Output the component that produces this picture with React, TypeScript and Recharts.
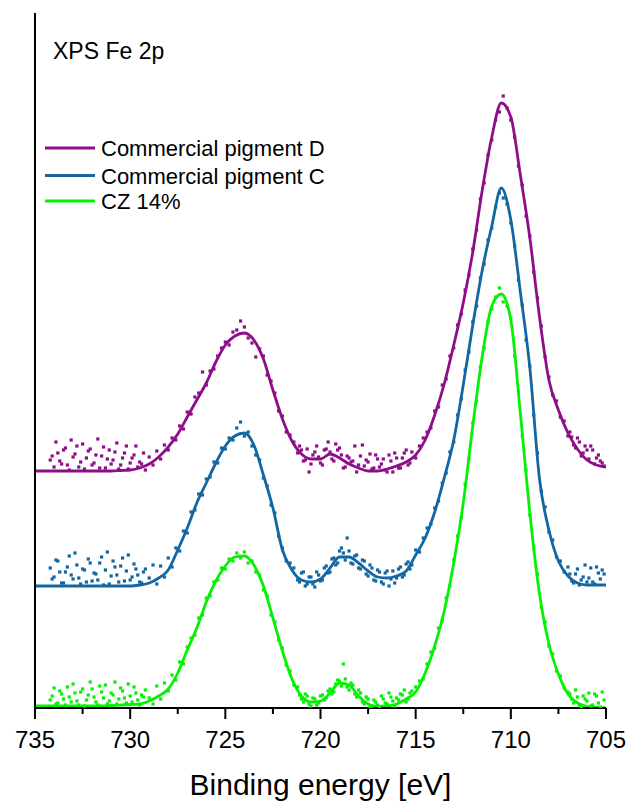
import React from 'react';
import { ComposedChart, Line, Scatter, XAxis, YAxis } from 'recharts';

// Fitted envelopes, binding energy 735 -> 705 eV in 0.5 eV steps (intensity, offset a.u.)
const fitEnergy = [
  735, 734.5, 734, 733.5, 733, 732.5, 732, 731.5, 731, 730.5,
  730, 729.5, 729, 728.5, 728, 727.5, 727, 726.5, 726, 725.5,
  725, 724.5, 724, 723.5, 723, 722.5, 722, 721.5, 721, 720.5,
  720, 719.5, 719, 718.5, 718, 717.5, 717, 716.5, 716, 715.5,
  715, 714.5, 714, 713.5, 713, 712.5, 712, 711.5, 711, 710.5,
  710, 709.5, 709, 708.5, 708, 707.5, 707, 706.5, 706, 705.5, 705,
];
const fitPigmentD = [
  237, 237, 237, 237, 237, 237, 237, 237, 237, 237.5,
  238, 240, 244, 251, 261, 274, 291, 308, 325, 346,
  363, 372, 375, 368, 349, 318, 289, 267, 254, 249,
  249, 254, 250, 244, 240, 237, 237, 239, 242, 246,
  253, 268, 293, 324, 363, 405, 456, 518, 571, 605,
  591, 533, 470, 392, 328, 298, 275, 259, 248, 243, 241,
];
const fitPigmentC = [
  122, 122, 122, 122, 122, 122, 122, 122, 122, 122,
  122, 123, 125, 130, 138, 158, 180, 205, 225, 245,
  262, 272, 275, 263, 233, 200, 158, 138, 128, 126,
  129, 140, 151, 151, 145, 137, 131, 130, 132, 137,
  153, 170, 196, 230, 268, 323, 383, 438, 482, 520,
  488, 416, 340, 230, 178, 147, 132, 125, 123, 123, 123,
];
const fitCZ14 = [
  2, 2, 2, 2, 2, 2, 2, 2, 2.5, 3,
  3.5, 4, 7, 12, 19, 35, 58, 80, 106, 127,
  142, 151, 152, 143, 122, 90, 57, 29, 12, 6,
  7, 15, 25, 23, 12, 4, 1.5, 2, 4, 9,
  16, 35, 62, 97, 145, 205, 282, 352, 402, 414,
  388, 295, 195, 115, 64, 34, 14, 5, 1.5, 0.5, 0,
];

// Measured points, 734.2 -> 705.2 eV in 0.2 eV steps
const pointEnergy = [
  734.2,
  734.0, 733.8, 733.6, 733.4, 733.2, 733.0, 732.8, 732.6, 732.4, 732.2,
  732.0, 731.8, 731.6, 731.4, 731.2, 731.0, 730.8, 730.6, 730.4, 730.2,
  730.0, 729.8, 729.6, 729.4, 729.2, 729.0, 728.8, 728.6, 728.4, 728.2,
  728.0, 727.8, 727.6, 727.4, 727.2, 727.0, 726.8, 726.6, 726.4, 726.2,
  726.0, 725.8, 725.6, 725.4, 725.2, 725.0, 724.8, 724.6, 724.4, 724.2,
  724.0, 723.8, 723.6, 723.4, 723.2, 723.0, 722.8, 722.6, 722.4, 722.2,
  722.0, 721.8, 721.6, 721.4, 721.2, 721.0, 720.8, 720.6, 720.4, 720.2,
  720.0, 719.8, 719.6, 719.4, 719.2, 719.0, 718.8, 718.6, 718.4, 718.2,
  718.0, 717.8, 717.6, 717.4, 717.2, 717.0, 716.8, 716.6, 716.4, 716.2,
  716.0, 715.8, 715.6, 715.4, 715.2, 715.0, 714.8, 714.6, 714.4, 714.2,
  714.0, 713.8, 713.6, 713.4, 713.2, 713.0, 712.8, 712.6, 712.4, 712.2,
  712.0, 711.8, 711.6, 711.4, 711.2, 711.0, 710.8, 710.6, 710.4, 710.2,
  710.0, 709.8, 709.6, 709.4, 709.2, 709.0, 708.8, 708.6, 708.4, 708.2,
  708.0, 707.8, 707.6, 707.4, 707.2, 707.0, 706.8, 706.6, 706.4, 706.2,
  706.0, 705.8, 705.6, 705.4, 705.2,
];
const pointsPigmentD = [
  248,
  241, 255, 244, 260, 238, 251, 262, 246, 239, 257,
  243, 253, 240, 261, 249, 244, 256, 239, 250, 262,
  245, 253, 241, 244, 238, 251, 243, 257, 249, 263,
  258, 270, 268, 282, 279, 296, 294, 311, 315, 336,
  323, 337, 339, 352, 360, 366, 363, 376, 378, 387,
  381, 370, 365, 351, 359, 352, 333, 327, 315, 297,
  292, 276, 273, 266, 255, 258, 248, 236, 253, 262,
  245, 258, 266, 249, 264, 260, 240, 252, 246, 262,
  243, 263, 248, 254, 240, 249, 244, 238, 253, 236,
  250, 240, 255, 243, 256, 250, 262, 270, 276, 280,
  297, 301, 323, 329, 352, 360, 383, 394, 418, 433,
  459, 478, 509, 525, 553, 568, 588, 596, 612, 600,
  588, 571, 542, 523, 492, 472, 436, 410, 382, 351,
  331, 313, 307, 291, 287, 272, 271, 260, 266, 255,
  258, 262, 244, 253, 245,
];
const pointsPigmentC = [
  140,
  131, 147, 125, 136, 152, 129, 143, 124, 138, 149,
  127, 134, 145, 123, 156, 132, 141, 126, 150, 137,
  128, 144, 133, 125, 139, 130, 143, 124, 142, 131,
  150, 141, 160, 157, 177, 175, 196, 198, 214, 213,
  229, 231, 246, 245, 260, 259, 270, 268, 280, 286,
  272, 276, 262, 253, 248, 230, 222, 203, 195, 172,
  160, 147, 145, 140, 128, 135, 122, 131, 124, 136,
  127, 140, 135, 149, 143, 157, 155, 170, 145, 152,
  140, 148, 134, 143, 128, 138, 126, 135, 122, 137,
  130, 141, 133, 146, 143, 158, 156, 170, 180, 184,
  200, 207, 225, 235, 256, 266, 293, 309, 338, 356,
  386, 402, 430, 444, 468, 480, 501, 515, 510, 504,
  485, 462, 428, 403, 368, 342, 293, 255, 217, 201,
  176, 168, 151, 147, 136, 141, 127, 134, 123, 131,
  126, 140, 124, 135, 138,
];
const pointsCZ14 = [
  8,
  20, 5, 14, 3, 11, 24, 7, 16, 2, 13,
  19, 6, 22, 10, 4, 15, 26, 9, 17, 5,
  12, 21, 8, 13, 18, 10, 4, 22, 9, 25,
  17, 33, 28, 46, 44, 61, 70, 73, 90, 93,
  110, 112, 126, 128, 140, 139, 149, 147, 155, 150,
  156, 145, 147, 136, 133, 118, 112, 93, 86, 68,
  60, 43, 37, 23, 21, 9, 14, 4, 10, 3,
  12, 8, 17, 14, 24, 27, 44, 21, 25, 14,
  18, 6, 11, 1, 8, 3, 12, 5, 15, 7,
  10, 14, 18, 9, 17, 21, 27, 29, 44, 56,
  60, 80, 88, 110, 122, 148, 172, 190, 224, 249,
  285, 307, 341, 360, 386, 399, 411, 420, 406, 402,
  390, 352, 316, 272, 238, 193, 160, 134, 101, 86,
  62, 54, 37, 32, 20, 16, 9, 18, 3, 12,
  7, 2, 14, 5, 16,
];

// Extra measured points in the flat (noisy) stretches, odd tenths
const extraEnergy = [
  734.1, 733.9, 733.7, 733.5, 733.3, 733.1, 732.9, 732.7, 732.5, 732.3,
  732.1, 731.9, 731.7, 731.5, 731.3, 731.1, 730.9, 730.7, 730.5, 730.3,
  730.1, 729.9, 729.7, 729.5, 729.3,
  721.1, 720.9, 720.7, 720.5, 720.3, 720.1, 719.9, 719.7, 719.5, 719.3,
  719.1, 718.9, 718.7, 718.5, 718.3, 718.1, 717.9, 717.7, 717.5, 717.3,
  717.1, 716.9, 716.7, 716.5, 716.3, 716.1, 715.9, 715.7, 715.5, 715.3,
  706.9, 706.7, 706.5, 706.3, 706.1, 705.9, 705.7, 705.5, 705.3, 705.1,
];
const extraPigmentD = [
  252, 266, 247, 258, 243, 268, 254, 241, 264, 250,
  259, 245, 269, 252, 240, 258, 248, 265, 243, 255,
  239, 250, 262, 246, 255,
  262, 247, 259, 244, 256, 251, 243, 259, 256, 247,
  258, 253, 241, 250, 247, 236, 252, 242, 246, 239,
  253, 241, 249, 236, 247, 255, 240, 250, 258, 245,
  276, 263, 270, 252, 262, 249, 258, 250, 247, 242,
];
const extraPigmentC = [
  129, 148, 136, 125, 141, 133, 155, 130, 139, 126,
  145, 135, 128, 151, 138, 124, 147, 133, 142, 127,
  153, 131, 139, 126, 136,
  126, 136, 124, 131, 121, 133, 128, 142, 136, 150,
  145, 160, 148, 157, 144, 153, 139, 147, 132, 140,
  127, 136, 124, 137, 129, 125, 139, 131, 144, 139,
  134, 125, 139, 128, 143, 130, 126, 141, 129, 134,
];
const extraCZ14 = [
  12, 4, 17, 9, 21, 6, 15, 3, 19, 8,
  26, 11, 3, 16, 23, 7, 13, 4, 20, 10,
  24, 6, 15, 3, 11,
  13, 6, 12, 2, 9, 5, 13, 10, 19, 16,
  28, 22, 29, 18, 23, 11, 15, 4, 9, 2,
  6, 0, 9, 4, 11, 2, 8, 13, 6, 15,
  14, 5, 11, 1, 9, 15, 3, 12, 1, 8,
];

const xTicks = [735, 732.5, 730, 727.5, 725, 722.5, 720, 717.5, 715, 712.5, 710, 707.5, 705];
const seriesNames = ['Commercial pigment D', 'Commercial pigment C', 'CZ 14%'];
const seriesColors = ['#8E0E8A', '#1267A2', '#05F005'];
const titleText = 'XPS Fe 2p';
const xLabel = 'Binding energy [eV]';

const FONT = '"Liberation Sans", Arial, sans-serif';

const toRows = (ys: number[]) => fitEnergy.map((e, i) => ({ e, v: ys[i] }));
const toPoints = (ys: number[], extra: number[]) =>
  pointEnergy.map((e, i) => ({ e, v: ys[i] })).concat(extraEnergy.map((e, i) => ({ e, v: extra[i] })));

const fits = [toRows(fitPigmentD), toRows(fitPigmentC), toRows(fitCZ14)];
const points = [
  toPoints(pointsPigmentD, extraPigmentD),
  toPoints(pointsPigmentC, extraPigmentC),
  toPoints(pointsCZ14, extraCZ14),
];

const makeSquare = (color: string) => (p: any) => (
  <rect x={p.cx - 1.6} y={p.cy - 1.6} width={3.2} height={3.2} fill={color} />
);

const AxisTick = (props: any) => {
  const { x, y, payload } = props;
  const v = payload.value;
  const major = Math.abs(v % 5) < 1e-6;
  return (
    <g>
      <line x1={x} x2={x} y1={y} y2={y + (major ? 11 : 6)} stroke="#000" strokeWidth={2} />
      {major && (
        <text x={x} y={y + 40} textAnchor="middle" fontSize={24} fontFamily={FONT} fill="#000">
          {String(v)}
        </text>
      )}
    </g>
  );
};

export default function App() {
  const legendY = [148, 175.5, 201];
  return (
    <div style={{ position: 'absolute', left: 0, top: 0, width: 627, height: 801, background: '#fff' }}>
      <ComposedChart width={627} height={801} margin={{ top: 13, right: 21, left: 34, bottom: 0 }}>
        <XAxis
          dataKey="e"
          type="number"
          domain={[705, 735]}
          reversed
          allowDataOverflow
          ticks={xTicks}
          interval={0}
          tickLine={false}
          tickSize={0}
          tickMargin={0}
          tick={<AxisTick />}
          axisLine={{ stroke: '#000', strokeWidth: 2 }}
          height={93}
          label={{ value: xLabel, position: 'insideBottom', offset: 6, fontSize: 30, fill: '#000', fontFamily: FONT }}
        />
        <YAxis
          dataKey="v"
          type="number"
          domain={[0, 695]}
          allowDataOverflow
          tick={false}
          tickLine={false}
          axisLine={{ stroke: '#000', strokeWidth: 2 }}
          width={1}
        />
        {[0, 1, 2].map((i) => (
          <Scatter
            key={'s' + i}
            name={seriesNames[i] + ' data'}
            data={points[i]}
            dataKey="v"
            fill={seriesColors[i]}
            shape={makeSquare(seriesColors[i])}
            isAnimationActive={false}
          />
        ))}
        {[0, 1, 2].map((i) => (
          <Line
            key={'l' + i}
            name={seriesNames[i]}
            data={fits[i]}
            dataKey="v"
            type="monotone"
            stroke={seriesColors[i]}
            strokeWidth={2.8}
            dot={false}
            activeDot={false}
            isAnimationActive={false}
          />
        ))}
      </ComposedChart>
      <svg
        width={627}
        height={801}
        style={{ position: 'absolute', left: 0, top: 0, pointerEvents: 'none' }}
      >
        <text x={53} y={59} fontSize={23} fontFamily={FONT} fill="#000">
          {titleText}
        </text>
        {seriesNames.map((name, i) => (
          <g key={name}>
            <line x1={45} x2={95} y1={legendY[i]} y2={legendY[i]} stroke={seriesColors[i]} strokeWidth={3} />
            <text x={101} y={legendY[i] + 8} fontSize={22} fontFamily={FONT} fill="#000">
              {name}
            </text>
          </g>
        ))}
      </svg>
    </div>
  );
}
